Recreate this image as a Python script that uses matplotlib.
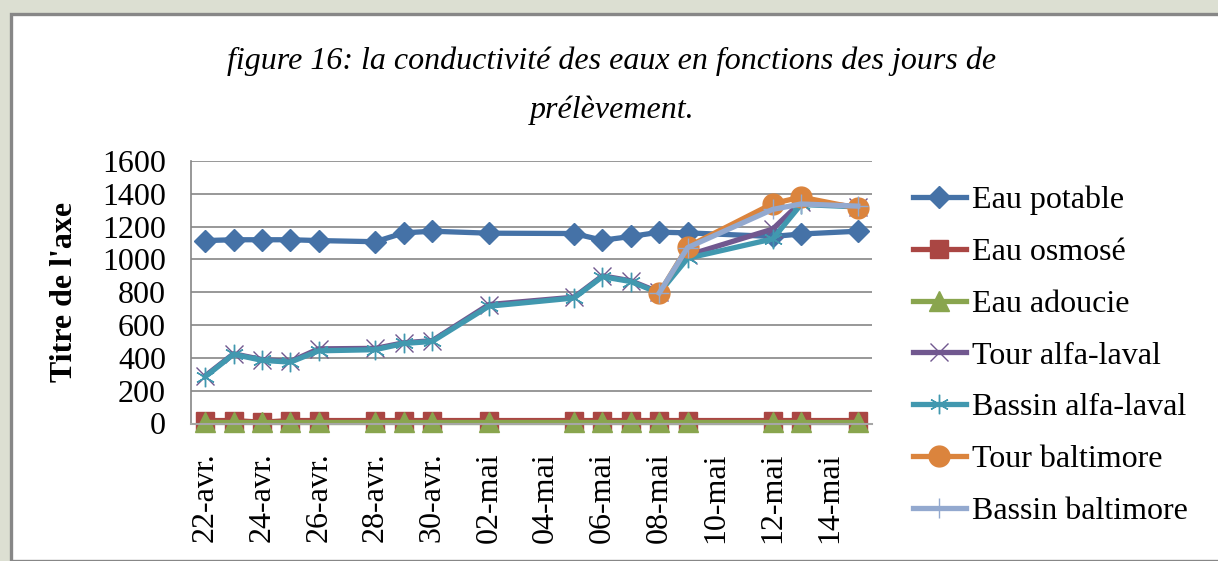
import matplotlib
matplotlib.use("Agg")
import matplotlib.pyplot as plt
import numpy as np
import pandas as pd
from matplotlib.patches import Rectangle

# sampling days (year not shown on the chart)
dates = ["2012-04-22", "2012-04-23", "2012-04-24", "2012-04-25", "2012-04-26",
         "2012-04-28", "2012-04-29", "2012-04-30", "2012-05-02", "2012-05-05",
         "2012-05-06", "2012-05-07", "2012-05-08", "2012-05-09", "2012-05-12",
         "2012-05-13", "2012-05-15"]

eau_potable = [1115, 1120, 1120, 1120, 1115, 1108, 1162, 1172, 1160, 1158,
               1117, 1140, 1166, 1162, 1140, 1155, 1172]
eau_osmose = [18, 18, 8, 18, 18, 18, 18, 18, 18, 18, 18, 18, 18, 18, 18, 18, 18]
eau_adoucie = [12, 12, 12, 12, 12, 12, 12, 12, 12, 12, 12, 12, 12, 12, 12, 12, 12]
tour_alfa = [290, 425, 390, 378, 455, 458, 492, 505, 725, 770, 900, 870, 800,
             1025, 1185, 1350, 1322]
bassin_alfa = [285, 422, 385, 374, 443, 450, 488, 500, 715, 765, 895, 865, 795,
               1007, 1125, 1335, 1320]
tour_baltimore = [None] * 12 + [793, 1077, 1340, 1380, 1312]
bassin_baltimore = [None] * 12 + [795, 1072, 1305, 1338, 1325]

tick_labels = ["22-avr.", "24-avr.", "26-avr.", "28-avr.", "30-avr.", "02-mai",
               "04-mai", "06-mai", "08-mai", "10-mai", "12-mai", "14-mai"]

series = [
    ("Eau potable", eau_potable, "#4572A7", dict(marker="D", ms=11)),
    ("Eau osmosé", eau_osmose, "#AA4643", dict(marker="s", ms=13)),
    ("Eau adoucie", eau_adoucie, "#89A54E", dict(marker="^", ms=14)),
    ("Tour alfa-laval", tour_alfa, "#71588F", dict(marker="x", ms=13, mew=1)),
    ("Bassin alfa-laval", bassin_alfa, "#4198AF", dict(marker=(6, 2, 0), ms=14, mew=1)),
    ("Tour baltimore", tour_baltimore, "#DB843D", dict(marker="o", ms=15)),
    ("Bassin baltimore", bassin_baltimore, "#93A9CF", dict(marker="+", ms=14, mew=1)),
]

d = pd.to_datetime(pd.Series(dates))
days = (d - d.iloc[0]).dt.days.to_numpy()

plt.rcParams["font.family"] = ["Liberation Serif", "DejaVu Serif"]

fig = plt.figure(figsize=(12.18, 5.61), dpi=100, facecolor="#dcdfd2")
fig.patches.append(Rectangle((11 / 1218, 0), 1.0, 1 - 14 / 561, transform=fig.transFigure,
                             facecolor="white", edgecolor="#878787", linewidth=2.4, zorder=-5))

ax = fig.add_axes([191 / 1218, 1 - 423.5 / 561, (872 - 191) / 1218, (423.5 - 161) / 561])
ax.set_facecolor("none")

for name, vals, color, mk in series:
    y = np.array([np.nan if v is None else v for v in vals], dtype=float)
    ax.plot(days, y, color=color, lw=3.8, label=name, solid_joinstyle="round",
            mfc=color, mec=color, clip_on=False, **mk)

ax.set_xlim(-0.5, 23.5)
ax.set_ylim(0, 1600)
ax.set_yticks(np.arange(0, 1601, 200))
ax.set_xticks(np.arange(0, 23, 2))
ax.set_xticklabels(tick_labels, rotation=90)
ax.yaxis.grid(True, color="#868686", lw=1.2)
ax.set_axisbelow(True)
for s in ("top", "right"):
    ax.spines[s].set_visible(False)
ax.spines["left"].set_color("#868686")
ax.spines["bottom"].set_color("#a6a6a6")
ax.spines["left"].set_linewidth(1.2)
ax.spines["bottom"].set_linewidth(1.5)
ax.tick_params(axis="y", length=0, pad=18, labelsize=23)
ax.tick_params(axis="x", length=0, pad=21, labelsize=23)
ax.set_ylabel("Titre de l'axe", fontsize=23, fontweight="bold", labelpad=17)

fig.text(612 / 1218, 1 - 86 / 561,
         "figure 16: la conductivité des eaux en fonctions des jours de\nprélèvement.",
         ha="center", va="center", fontsize=23, style="italic", linespacing=1.85)

fig.legend(loc="upper left", bbox_to_anchor=(897 / 1218, 1 - 170 / 561), frameon=False,
           fontsize=23, handlelength=1.65, handletextpad=0.2, labelspacing=0.7, borderpad=0)

fig.savefig("out.png", dpi=100, facecolor=fig.get_facecolor())
